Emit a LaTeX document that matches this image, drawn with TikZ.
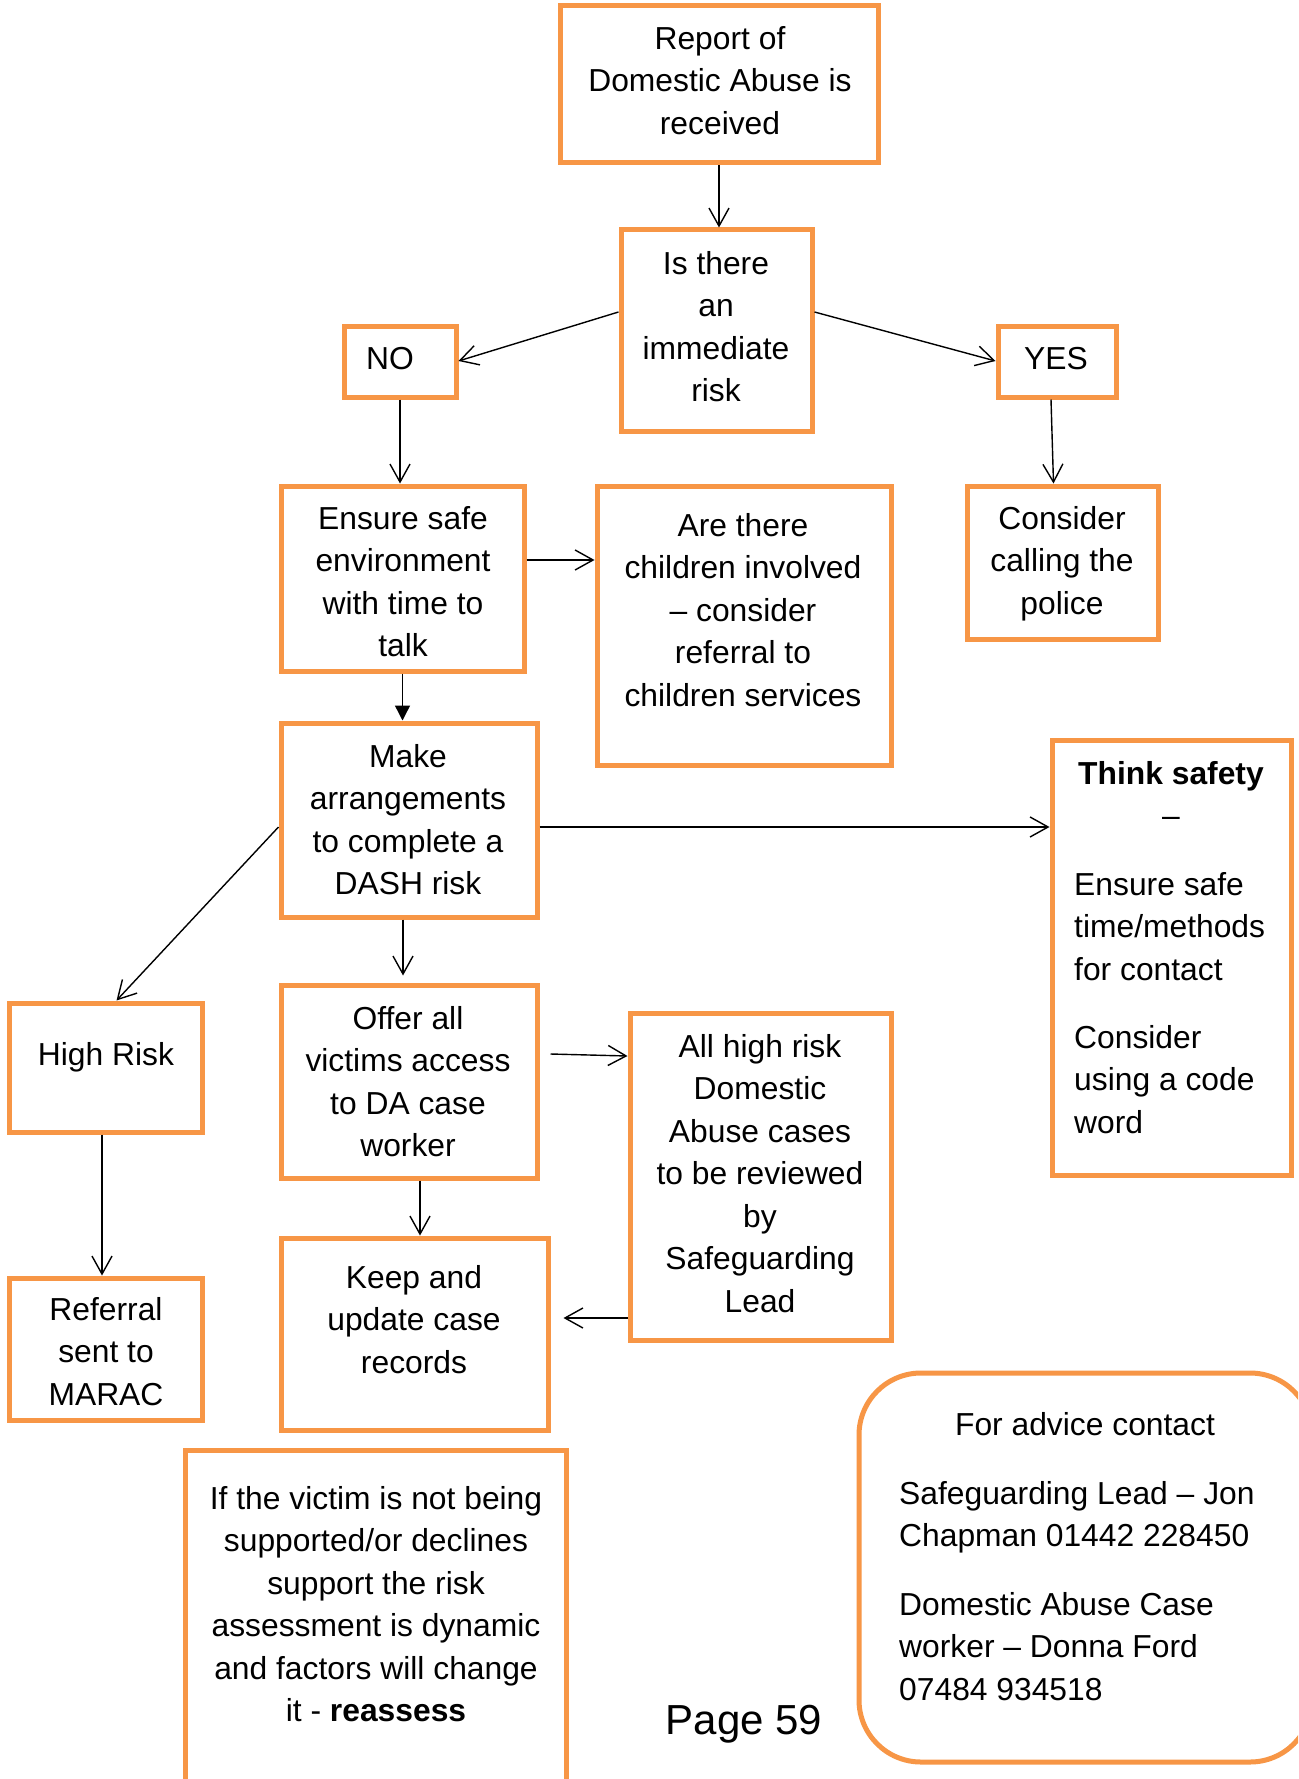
\documentclass[tikz,border=0pt]{standalone}
\usepackage{fontspec}
\setmainfont{Liberation Sans}
\usetikzlibrary{arrows.meta,fit}
\definecolor{boxorange}{HTML}{F79646}
\begin{document}
\begin{tikzpicture}[x=1pt,y=-1pt,
  box/.style={draw=boxorange, line width=5pt, inner sep=0pt, fit={#1}},
  txt/.style={font=\fontsize{31.8}{42.5}\selectfont, align=center, inner sep=0pt, anchor=north, yshift=-2.5pt},
  ltxt/.style={font=\fontsize{31.8}{42.5}\selectfont, align=left, inner sep=0pt, anchor=north west, yshift=-2.5pt},
  conn/.style={line width=1.4pt, -{Straight Barb[length=18pt,width=20pt,line width=1.4pt]}},
  fconn/.style={line width=1.4pt, -{Triangle[length=15pt,width=15pt]}}]
\clip (0,0) rectangle (1298,1779);
\fill[white] (0,0) rectangle (1298,1779);
% boxes
\node[box={(560,6) (878,163)}] (report) {};
\node[box={(621,230) (812,431)}] (isq) {};
\node[box={(344,326) (456,397)}] (no) {};
\node[box={(998,326) (1116,397)}] (yes) {};
\node[box={(281,486) (524,671)}] (ensure) {};
\node[box={(597,486) (891,765)}] (children) {};
\node[box={(967,486) (1158,639)}] (police) {};
\node[box={(281,723) (537,917)}] (make) {};
\node[box={(1052,740) (1291,1175)}] (think) {};
\node[box={(9,1003) (202,1132)}] (high) {};
\node[box={(281,985) (537,1178)}] (offer) {};
\node[box={(630,1013) (891,1340)}] (allhigh) {};
\node[box={(9,1278) (202,1420)}] (marac) {};
\node[box={(281,1238) (548,1430)}] (keep) {};
\node[box={(185,1450) (566,1810)}] (victim) {};
\node[box={(859,1373) (1312,1762)}, rounded corners=62pt] (advice) {};
% texts
\node[txt] (t-report) at (720,17) {\strut Report of\\Domestic Abuse is\\received};
\node[txt] (t-isq) at (716,242) {\strut Is there\\an\\immediate\\risk};
\node[txt] (t-no) at (390,337) {\strut NO};
\node[txt] (t-yes) at (1056,337) {\strut YES};
\node[txt] (t-ensure) at (403,497) {\strut Ensure safe\\environment\\with time to\\talk};
\node[txt] (t-children) at (743,504) {\strut Are there\\children involved\\– consider\\referral to\\children services};
\node[txt] (t-police) at (1062,497) {\strut Consider\\calling the\\police};
\node[txt] (t-make) at (408,735) {\strut Make\\arrangements\\to complete a\\DASH risk};
\node[txt] (t-think) at (1171,752) {\strut\textbf{Think safety}\\–};
\node[ltxt] (t-think2) at (1074,863) {\strut Ensure safe\\time/methods\\for contact\\[25.5pt]Consider\\using a code\\word};
\node[txt] (t-high) at (106,1033) {\strut High Risk};
\node[txt] (t-offer) at (408,997) {\strut Offer all\\victims access\\to DA case\\worker};
\node[txt] (t-allhigh) at (760,1025) {\strut All high risk\\Domestic\\Abuse cases\\to be reviewed\\by\\Safeguarding\\Lead};
\node[txt] (t-marac) at (106,1288) {\strut Referral\\sent to\\MARAC};
\node[txt] (t-keep) at (414,1256) {\strut Keep and\\update case\\records};
\node[txt] (t-victim) at (376,1477) {\strut If the victim is not being\\supported/or declines\\support the risk\\assessment is dynamic\\and factors will change\\it - \textbf{reassess}};
\node[txt] (t-advice) at (1085,1403) {\strut For advice contact};
\node[ltxt] (t-advice2) at (899,1472) {\strut Safeguarding Lead – Jon\\Chapman 01442 228450\\[26pt]Domestic Abuse Case\\worker – Donna Ford\\07484 934518};
\node[font=\fontsize{42}{50}\selectfont, inner sep=0pt] (page) at (744,1724) {Page 59};
% connectors
\draw[conn] (report.south) -- (report.south |- isq.north);
\draw[conn] (isq.west |- 0,312) -- (no.east |- 0,361);
\draw[conn] (isq.east |- 0,312) -- (yes.west |- 0,361);
\draw[conn] (no.south) -- (no.south |- ensure.north);
\draw[conn] ([xshift=-6pt]yes.south) -- ([xshift=-9pt]police.north);
\draw[conn] (ensure.east |- 0,560) -- (children.west |- 0,560);
\draw[fconn] (ensure.south) -- (ensure.south |- make.north);
\draw[conn] (make.east |- 0,827) -- (think.west |- 0,827);
\draw[conn] (make.west |- 0,827) -- ([xshift=11pt]high.north);
\draw[conn] (make.south -| 403,0) -- ([yshift=7pt]offer.north -| 403,0);
\draw[conn] ([xshift=11pt]offer.east |- 0,1054) -- (allhigh.west |- 0,1056);
\draw[conn] (offer.south -| 420,0) -- (keep.north -| 420,0);
\draw[conn] (high.south -| 102,0) -- (marac.north -| 102,0);
\draw[conn] (allhigh.west |- 0,1318) -- ([xshift=13pt]keep.east |- 0,1318);
\end{tikzpicture}
\end{document}
